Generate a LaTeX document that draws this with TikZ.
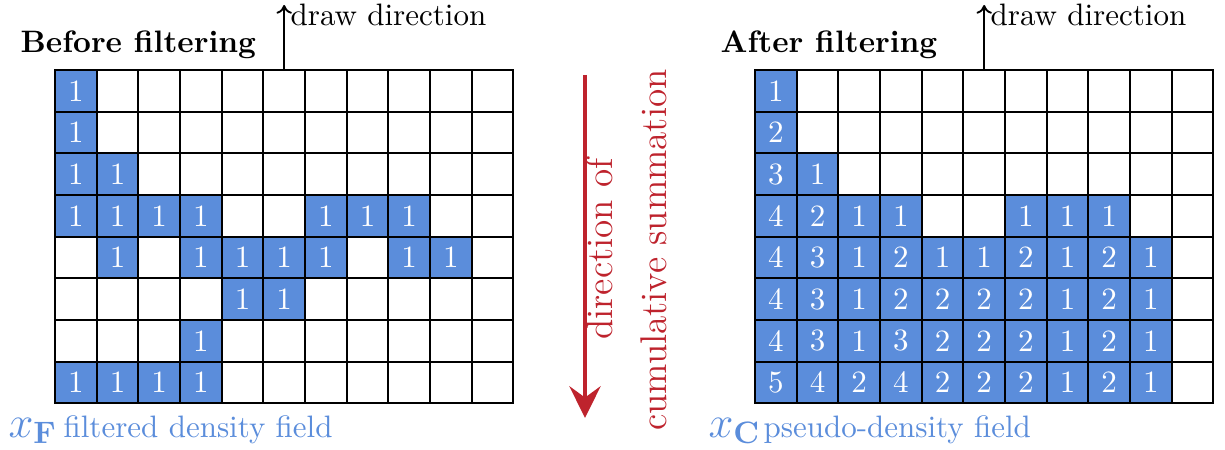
\documentclass[tikz,border=0pt]{standalone}
\usetikzlibrary{arrows.meta}
\definecolor{cellblue}{RGB}{91,141,219}
\definecolor{sumred}{RGB}{190,35,45}

\begin{document}
\begin{tikzpicture}[x=0.32258pt, y=-0.32258pt,
  cell/.style={draw=black, line width=0.7pt, minimum size=13.44pt, inner sep=0pt, outer sep=0pt},
  fullcell/.style={cell, fill=cellblue, text=white},
  emptycell/.style={cell, fill=white},
  title/.style={font=\bfseries, anchor=base west, inner sep=0pt},
  hint/.style={anchor=base west, inner sep=0pt},
  field/.style={text=cellblue, anchor=base west, inner sep=0pt},
  drawarrow/.style={-{To[length=2.8pt,width=5pt]}, line width=0.6pt},
  sumarrow/.style={draw=sumred, line width=1.6pt, -{Stealth[length=10.2pt,width=10pt,inset=3.6pt]}},
  sumlabel/.style={text=sumred, font=\large, rotate=90, anchor=base, inner sep=0pt}
]
\useasboundingbox (0,0) rectangle (1225,450);

% filtered density field
\foreach \vals [count=\r] in {
  {1,0,0,0,0,0,0,0,0,0,0},
  {1,0,0,0,0,0,0,0,0,0,0},
  {1,1,0,0,0,0,0,0,0,0,0},
  {1,1,1,1,0,0,1,1,1,0,0},
  {0,1,0,1,1,1,1,0,1,1,0},
  {0,0,0,0,1,1,0,0,0,0,0},
  {0,0,0,1,0,0,0,0,0,0,0},
  {1,1,1,1,0,0,0,0,0,0,0}}{
  \foreach \v [count=\c] in \vals {
    \ifnum\v=0
      \node[emptycell] (L-\r-\c) at ({55+(\c-0.5)*41.667},{70+(\r-0.5)*41.667}) {};
    \else
      \node[fullcell] (L-\r-\c) at ({55+(\c-0.5)*41.667},{70+(\r-0.5)*41.667}) {\v};
    \fi
  }
}

% pseudo-density field (column-wise cumulative sums)
\foreach \vals [count=\r] in {
  {1,0,0,0,0,0,0,0,0,0,0},
  {2,0,0,0,0,0,0,0,0,0,0},
  {3,1,0,0,0,0,0,0,0,0,0},
  {4,2,1,1,0,0,1,1,1,0,0},
  {4,3,1,2,1,1,2,1,2,1,0},
  {4,3,1,2,2,2,2,1,2,1,0},
  {4,3,1,3,2,2,2,1,2,1,0},
  {5,4,2,4,2,2,2,1,2,1,0}}{
  \foreach \v [count=\c] in \vals {
    \ifnum\v=0
      \node[emptycell] (R-\r-\c) at ({755+(\c-0.5)*41.667},{70+(\r-0.5)*41.667}) {};
    \else
      \node[fullcell] (R-\r-\c) at ({755+(\c-0.5)*41.667},{70+(\r-0.5)*41.667}) {\v};
    \fi
  }
}

% titles
\node[title] (ltitle) at (20,53) {Before filtering};
\node[title] (rtitle) at (720,53) {After filtering};

% draw direction arrows
\coordinate (ltip) at (285,5);
\coordinate (rtip) at (985,5);
\draw[drawarrow] (L-1-6.north) -- (L-1-6.north |- ltip);
\draw[drawarrow] (R-1-6.north) -- (R-1-6.north |- rtip);
\node[hint] (ldir) at (290,26) {draw direction};
\node[hint] (rdir) at (990,26) {draw direction};

% field labels
\node[field, font=\Large] (lsym) at (8,437) {$x_{\mathbf{F}}$};
\node[field] (ltext) at (63,437) {filtered density field};
\node[field, font=\Large] (rsym) at (708,437) {$x_{\mathbf{C}}$};
\node[field] (rtext) at (763,437) {pseudo-density field};

% direction of cumulative summation
\coordinate (sumstart) at (585,75);
\coordinate (sumend) at (585,418);
\draw[sumarrow] (sumstart) -- (sumend);
\node[sumlabel] (sum1) at (612,249) {direction of};
\node[sumlabel] (sum2) at (666,250) {cumulative summation};
\end{tikzpicture}
\end{document}
